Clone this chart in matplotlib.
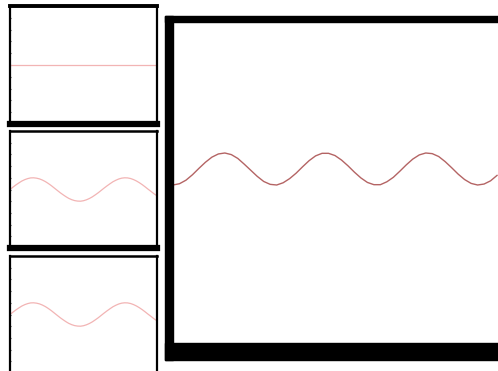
import matplotlib
matplotlib.use("Agg")
import matplotlib.pyplot as plt
from matplotlib.patches import Rectangle

# x-värden (samma för alla paneler)
x_vals = [round(0.2 * i, 1) for i in range(51)]

# avlästa kurvor
sin_vals = [0.00, 0.20, 0.39, 0.56, 0.72, 0.84, 0.93, 0.99, 1.00, 0.97,
            0.91, 0.81, 0.68, 0.52, 0.34, 0.14, -0.06, -0.26, -0.44, -0.61,
            -0.76, -0.87, -0.95, -0.99, -1.00, -0.96, -0.88, -0.77, -0.63, -0.46,
            -0.28, -0.08, 0.12, 0.31, 0.49, 0.66, 0.79, 0.90, 0.97, 1.00,
            0.99, 0.94, 0.85, 0.73, 0.58, 0.41, 0.22, 0.02, -0.17, -0.37,
            -0.54]
flat_vals = [5.0] * 51
wave_vals = [5 + s for s in sin_vals]
main_vals = [5.00, 5.04, 5.15, 5.32, 5.52, 5.71, 5.87, 5.97, 6.00, 5.95,
             5.83, 5.65, 5.46, 5.27, 5.11, 5.02, 5.00, 5.07, 5.20, 5.37,
             5.57, 5.76, 5.91, 5.99, 5.99, 5.92, 5.78, 5.60, 5.40, 5.22,
             5.08, 5.01, 5.01, 5.10, 5.24, 5.43, 5.63, 5.81, 5.94, 6.00,
             5.98, 5.89, 5.73, 5.54, 5.34, 5.17, 5.05, 5.00, 5.03, 5.13,
             5.30]

x_ticks = list(range(10))
y_ticks = list(range(11))

W, H = 498, 371
fig = plt.figure(figsize=(W / 100, H / 100), dpi=100)


def frac(left, top, right, bottom):
    # pixelkoordinater -> figurkoordinater
    return [left / W, 1 - bottom / H, (right - left) / W, (bottom - top) / H]


def band(left, top, right, bottom):
    fig.patches.append(Rectangle((left / W, 1 - bottom / H), (right - left) / W,
                                 (bottom - top) / H, transform=fig.transFigure,
                                 color="black", zorder=5))


# små paneler till vänster (den sista sticker ut under bildkanten)
small = [(6, 124, flat_vals, 2.8), (131, 248, wave_vals, 1.8), (256, 373, wave_vals, 1.8)]
for i, (top, bottom, vals, top_lw) in enumerate(small):
    ax = fig.add_axes(frac(10, top, 157, bottom))
    ax.plot(x_vals, vals, color="#f2b4b4", lw=0.9)
    ax.set_xlim(0, 10)
    ax.set_ylim(0, 10)
    for s in ["left", "right"]:
        ax.spines[s].set_linewidth(1.6)
    ax.spines["top"].set_linewidth(top_lw)
    ax.spines["bottom"].set_linewidth(4.5)
    ax.set_xticks(x_ticks)
    ax.set_yticks(y_ticks if i < 2 else y_ticks[1:])
    ax.tick_params(axis="x", direction="in", length=1, color="white",
                   labelsize=1.5, labelcolor="white", pad=-3)
    ax.tick_params(axis="y", direction="in", length=1, color="#444444",
                   labelsize=1.5, labelcolor="white")
    if i == 2:
        ax.set_xticklabels([])

# stor panel till höger
ax = fig.add_axes(frac(173, 25, 498, 345))
ax.plot(x_vals, main_vals, color="#b46464", lw=1.0)
ax.set_xlim(0, 10.03)
ax.set_ylim(0, 10)
for s in ax.spines.values():
    s.set_visible(False)
ax.set_xticks(x_ticks)
ax.set_yticks(y_ticks)
ax.tick_params(axis="x", length=0, labelsize=3, labelcolor="white", pad=3)
ax.tick_params(axis="y", length=0, labelsize=3, labelcolor="white", pad=1.5)
for lab in ax.get_xticklabels() + ax.get_yticklabels():
    lab.set_zorder(6)

band(165, 16, 173, 360)
band(165, 16, 498, 22)
band(165, 343, 498, 360)

fig.savefig("out.png", dpi=100)
